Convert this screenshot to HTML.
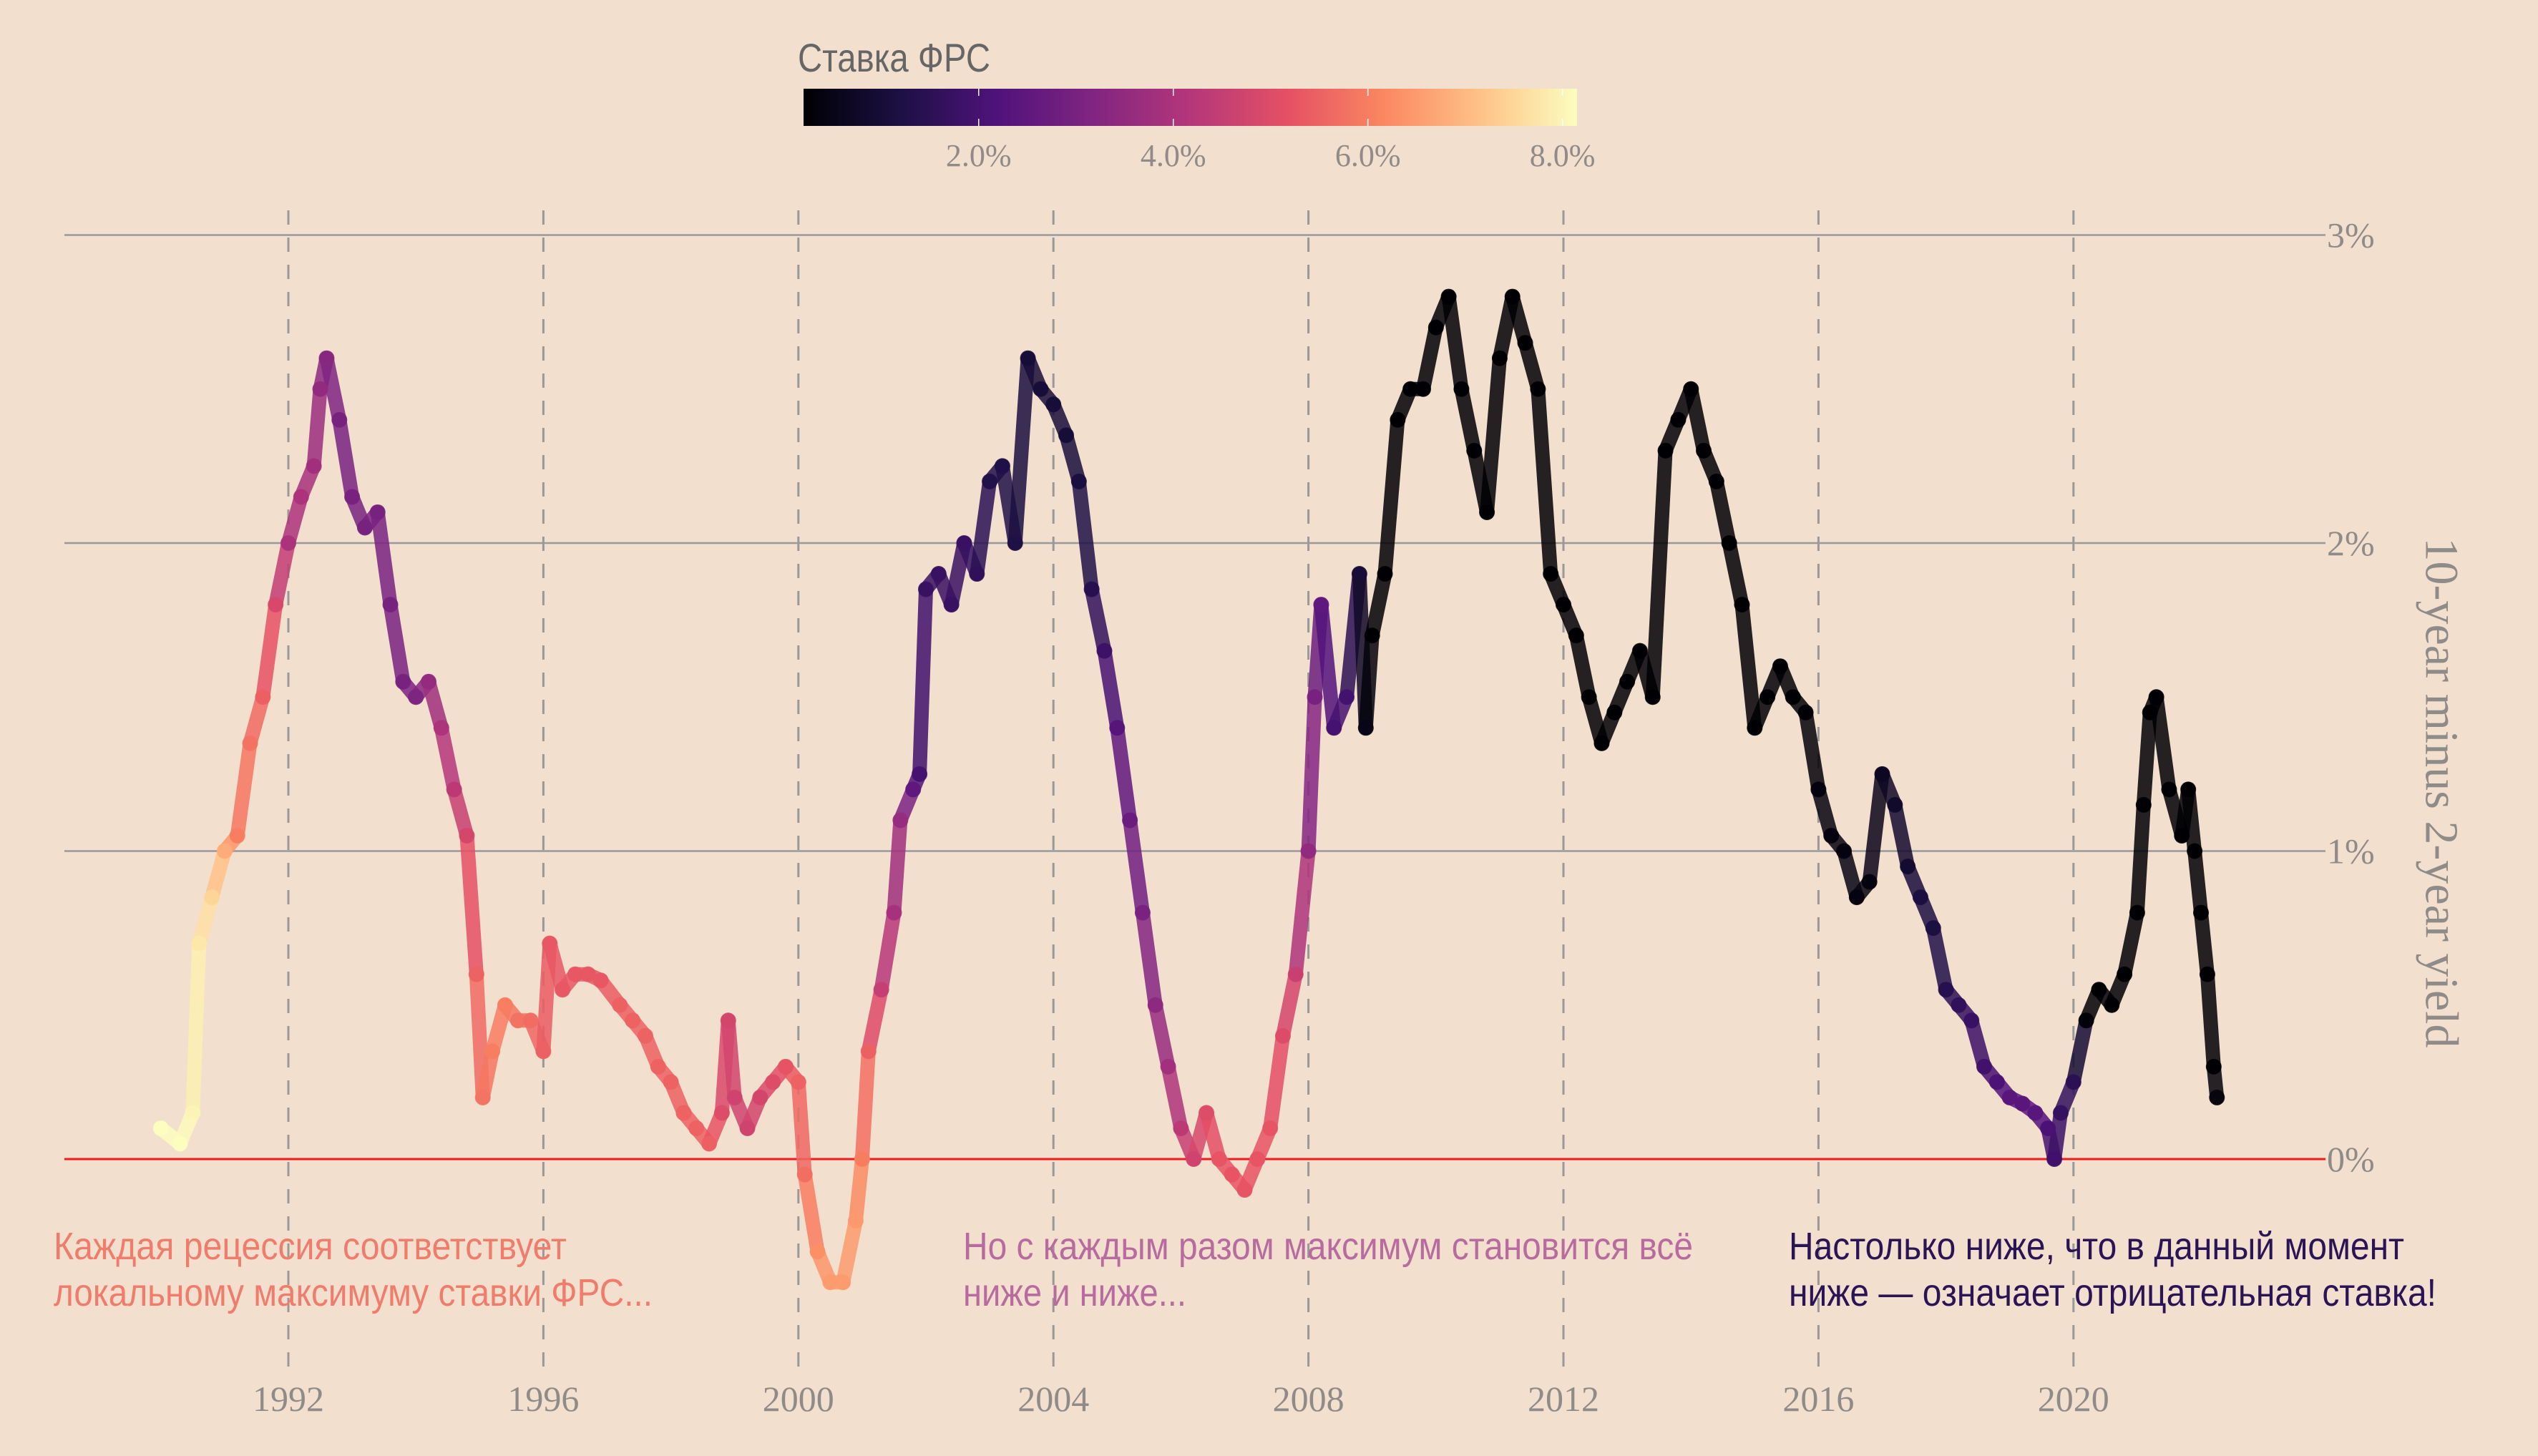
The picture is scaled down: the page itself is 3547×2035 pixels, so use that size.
<!DOCTYPE html>
<html><head><meta charset="utf-8">
<style>
html,body{margin:0;padding:0;background:#f3dfce;}
svg{display:block;}
.tk{font-family:"Liberation Serif",serif;font-size:50px;fill:#8f8b88;}
.ann{font-family:"Liberation Sans Narrow","Liberation Sans",sans-serif;font-size:54px;}
</style></head>
<body>
<svg id="chart" width="3547" height="2035" viewBox="0 0 3547 2035" xmlns="http://www.w3.org/2000/svg">
<defs>
<linearGradient id="magma" x1="0" x2="1" y1="0" y2="0">
<stop offset="0" stop-color="#000004"/><stop offset="0.125" stop-color="#1c1044"/><stop offset="0.25" stop-color="#4f127b"/><stop offset="0.375" stop-color="#812581"/><stop offset="0.5" stop-color="#b5367a"/><stop offset="0.625" stop-color="#e55064"/><stop offset="0.75" stop-color="#fb8761"/><stop offset="0.875" stop-color="#fec287"/><stop offset="1" stop-color="#fcfdbf"/>
</linearGradient>
</defs>
<g id="grid"></g>
<g id="marks"></g>
<g id="legend">
<text x="1115" y="100" textLength="269" lengthAdjust="spacingAndGlyphs" style="font-family:'Liberation Sans Narrow','Liberation Sans',sans-serif;font-size:56px;fill:#666">Ставка ФРС</text>
<rect x="1123" y="124" width="1081" height="52" fill="url(#magma)"/>
</g>
<g id="annotations">
<text class="ann" fill="#f07c6c"><tspan x="75" y="1760" textLength="717" lengthAdjust="spacingAndGlyphs">Каждая рецессия соответствует</tspan><tspan x="75" y="1825" textLength="837" lengthAdjust="spacingAndGlyphs">локальному максимуму ставки ФРС...</tspan></text>
<text class="ann" fill="#b86b9f"><tspan x="1346" y="1760" textLength="1020" lengthAdjust="spacingAndGlyphs">Но с каждым разом максимум становится всё</tspan><tspan x="1346" y="1825" textLength="312" lengthAdjust="spacingAndGlyphs">ниже и ниже...</tspan></text>
<text class="ann" fill="#2a1456"><tspan x="2500" y="1760" textLength="860" lengthAdjust="spacingAndGlyphs">Настолько ниже, что в данный момент</tspan><tspan x="2500" y="1825" textLength="905" lengthAdjust="spacingAndGlyphs">ниже — означает отрицательная ставка!</tspan></text>
</g>
<text x="3412" y="1108" class="tk" style="font-size:66px" text-anchor="middle" transform="rotate(90 3412 1108)" dominant-baseline="central">10-year minus 2-year yield</text>
</svg>
<script>
const times=[1990.0,1990.3,1990.5,1990.6,1990.8,1991.0,1991.2,1991.4,1991.6,1991.8,1992.0,1992.2,1992.4,1992.5,1992.6,1992.8,1993.0,1993.2,1993.4,1993.6,1993.8,1994.0,1994.2,1994.4,1994.6,1994.8,1994.95,1995.05,1995.2,1995.4,1995.6,1995.8,1996.0,1996.1,1996.3,1996.5,1996.7,1996.9,1997.2,1997.4,1997.6,1997.8,1998.0,1998.2,1998.4,1998.6,1998.8,1998.9,1999.0,1999.2,1999.4,1999.6,1999.8,2000.0,2000.1,2000.3,2000.5,2000.7,2000.9,2001.0,2001.1,2001.3,2001.5,2001.6,2001.8,2001.9,2002.0,2002.2,2002.4,2002.6,2002.8,2003.0,2003.2,2003.4,2003.6,2003.8,2004.0,2004.2,2004.4,2004.6,2004.8,2005.0,2005.2,2005.4,2005.6,2005.8,2006.0,2006.2,2006.4,2006.6,2006.8,2007.0,2007.2,2007.4,2007.6,2007.8,2008.0,2008.1,2008.2,2008.4,2008.6,2008.8,2008.9,2009.0,2009.2,2009.4,2009.6,2009.8,2010.0,2010.2,2010.4,2010.6,2010.8,2011.0,2011.2,2011.4,2011.6,2011.8,2012.0,2012.2,2012.4,2012.6,2012.8,2013.0,2013.2,2013.4,2013.6,2013.8,2014.0,2014.2,2014.4,2014.6,2014.8,2015.0,2015.2,2015.4,2015.6,2015.8,2016.0,2016.2,2016.4,2016.6,2016.8,2017.0,2017.2,2017.4,2017.6,2017.8,2018.0,2018.2,2018.4,2018.6,2018.8,2019.0,2019.2,2019.4,2019.6,2019.7,2019.8,2020.0,2020.2,2020.4,2020.6,2020.8,2021.0,2021.1,2021.2,2021.3,2021.5,2021.7,2021.8,2021.9,2022.0,2022.1,2022.2,2022.25];
const spread=[0.1,0.05,0.15,0.7,0.85,1.0,1.05,1.35,1.5,1.8,2.0,2.15,2.25,2.5,2.6,2.4,2.15,2.05,2.1,1.8,1.55,1.5,1.55,1.4,1.2,1.05,0.6,0.2,0.35,0.5,0.45,0.45,0.35,0.7,0.55,0.6,0.6,0.58,0.5,0.45,0.4,0.3,0.25,0.15,0.1,0.05,0.15,0.45,0.2,0.1,0.2,0.25,0.3,0.25,-0.05,-0.3,-0.4,-0.4,-0.2,0.0,0.35,0.55,0.8,1.1,1.2,1.25,1.85,1.9,1.8,2.0,1.9,2.2,2.25,2.0,2.6,2.5,2.45,2.35,2.2,1.85,1.65,1.4,1.1,0.8,0.5,0.3,0.1,0.0,0.15,0.0,-0.05,-0.1,0.0,0.1,0.4,0.6,1.0,1.5,1.8,1.4,1.5,1.9,1.4,1.7,1.9,2.4,2.5,2.5,2.7,2.8,2.5,2.3,2.1,2.6,2.8,2.65,2.5,1.9,1.8,1.7,1.5,1.35,1.45,1.55,1.65,1.5,2.3,2.4,2.5,2.3,2.2,2.0,1.8,1.4,1.5,1.6,1.5,1.45,1.2,1.05,1.0,0.85,0.9,1.25,1.15,0.95,0.85,0.75,0.55,0.5,0.45,0.3,0.25,0.2,0.18,0.15,0.1,0.0,0.15,0.25,0.45,0.55,0.5,0.6,0.8,1.15,1.45,1.5,1.2,1.05,1.2,1.0,0.8,0.6,0.3,0.2];
const fedRate=[8.2,8.2,8.0,7.8,7.5,6.8,6.0,5.8,5.5,4.9,4.0,4.0,3.8,3.5,3.3,3.0,3.0,3.0,3.0,3.0,3.0,3.1,3.5,4.0,4.3,4.8,5.5,5.8,6.0,6.0,5.8,5.7,5.5,5.3,5.3,5.3,5.3,5.3,5.5,5.5,5.5,5.5,5.5,5.5,5.5,5.5,5.0,4.8,4.7,4.7,4.8,5.0,5.2,5.5,5.7,6.3,6.5,6.5,6.5,6.0,5.5,4.5,3.9,3.6,2.5,2.0,1.75,1.75,1.75,1.75,1.6,1.3,1.25,1.25,1.0,1.0,1.0,1.0,1.1,1.4,1.8,2.3,2.7,3.0,3.4,3.8,4.3,4.7,5.0,5.25,5.25,5.25,5.25,5.25,5.0,4.6,3.5,3.0,2.5,2.0,2.0,1.0,0.5,0.15,0.15,0.15,0.15,0.12,0.12,0.15,0.2,0.2,0.2,0.17,0.15,0.1,0.1,0.08,0.08,0.15,0.15,0.15,0.15,0.15,0.14,0.1,0.08,0.08,0.07,0.09,0.09,0.09,0.09,0.11,0.12,0.13,0.14,0.13,0.35,0.37,0.37,0.4,0.4,0.65,0.8,0.9,1.15,1.15,1.4,1.6,1.75,1.9,2.1,2.4,2.4,2.4,2.1,1.9,1.7,1.55,0.3,0.08,0.09,0.09,0.09,0.08,0.07,0.06,0.08,0.08,0.08,0.08,0.08,0.08,0.2,0.33];
const xTicks=[1992,1996,2000,2004,2008,2012,2016,2020];
const yTicks=[0,1,2,3];
const yTickLabels=["0%","1%","2%","3%"];
const cbTicks=[2,4,6,8];
const cbTickLabels=["2.0%","4.0%","6.0%","8.0%"];

const NS="http://www.w3.org/2000/svg";
const X=t=>403+(t-1992)*89.1;
const Y=v=>1620-v*430.5;
const cbMin=0.2,cbMax=8.15;
const CB=v=>1123+(v-cbMin)/(cbMax-cbMin)*1081;
const stops=[[0,0,4],[28,16,68],[79,18,123],[129,37,129],[181,54,122],[229,80,100],[251,135,97],[254,194,135],[252,253,191]];
function magma(v){let f=Math.max(0,Math.min(1,(v-cbMin)/(cbMax-cbMin)))*8;let i=Math.min(7,Math.floor(f)),r=f-i;const a=stops[i],b=stops[i+1];return `rgb(${a.map((c,k)=>Math.round(c+(b[k]-c)*r)).join(',')})`;}
function mk(tag,attrs,parent){const e=document.createElementNS(NS,tag);for(const k in attrs)e.setAttribute(k,attrs[k]);parent.appendChild(e);return e;}

const grid=document.getElementById('grid');
yTicks.forEach((v,i)=>{
  const l=mk('line',{x1:90,x2:3250,y1:Y(v),y2:Y(v),stroke:v===0?'#ee1c1c':'#999','stroke-width':v===0?3:2.5},grid);
  
  
  const t=mk('text',{x:3252,y:Y(v),'dominant-baseline':'central',class:'tk'},grid);
  t.textContent=yTickLabels[i];
  
  
});
xTicks.forEach(yr=>{
  const l=mk('line',{x1:X(yr),x2:X(yr),y1:294,y2:1923,stroke:'#999','stroke-width':3,'stroke-dasharray':'20 18'},grid);
  
  
  const t=mk('text',{x:X(yr),y:1972,'text-anchor':'middle',class:'tk'},grid);
  t.textContent=String(yr);
  
  
});
const leg=document.getElementById('legend');
cbTicks.forEach((v,i)=>{
  const l=mk('line',{x1:CB(v),x2:CB(v),y1:124,y2:176,stroke:'#fff','stroke-width':1.5,'stroke-dasharray':'10 32 10'},leg);
  
  
  const t=mk('text',{x:CB(v),y:232,'text-anchor':'middle',class:'tk',style:'font-size:44px'},leg);
  t.textContent=cbTickLabels[i];
  
  
});
const marks=document.getElementById('marks');
for(let i=0;i<times.length-1;i++){
  if(times[i+1]-times[i]>0.5)continue;
  const s=mk('line',{x1:X(times[i]),y1:Y(spread[i]),x2:X(times[i+1]),y2:Y(spread[i+1]),stroke:magma((fedRate[i]+fedRate[i+1])/2),'stroke-width':20,'stroke-linecap':'round','stroke-opacity':0.85},marks);
  
  
}
for(let i=0;i<times.length;i++){
  const c=mk('circle',{cx:X(times[i]),cy:Y(spread[i]),r:11,fill:magma(fedRate[i]),'fill-opacity':0.9},marks);
  
  
}
</script>
</body></html>
